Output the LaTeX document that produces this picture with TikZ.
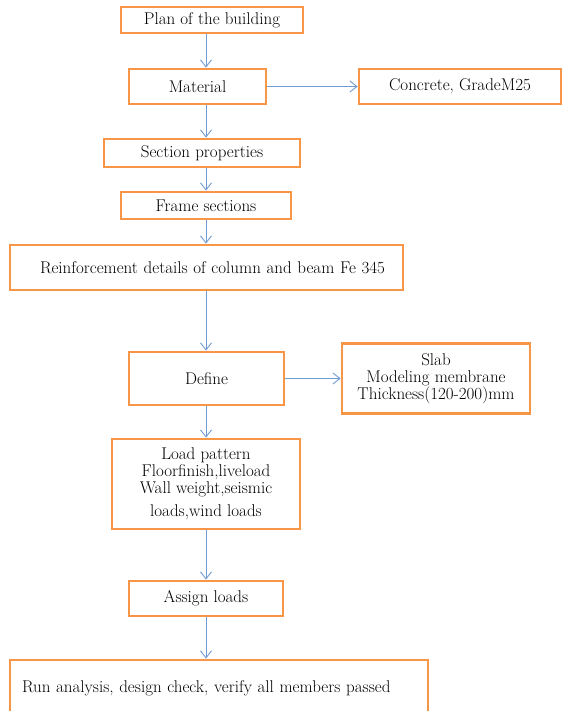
\documentclass[tikz,border=0pt]{standalone}
\usetikzlibrary{arrows.meta}
\usepackage{xcolor}
\definecolor{boxorange}{HTML}{F79646}
\definecolor{arrowblue}{HTML}{6F9BD3}

\begin{document}
\begin{tikzpicture}[
  x=1pt, y=-1pt,
  box/.style={draw=boxorange, line width=2.8pt, fill=white, align=center, inner sep=0pt, font=\fontsize{17}{17}\selectfont},
  arr/.style={-{Straight Barb[length=7pt, width=11pt]}, arrowblue, line width=0.9pt}
]
\useasboundingbox (0,0) rectangle (571,711);

% main column
\node[box, minimum width=182pt, minimum height=26pt] (plan) at (212,20) {Plan of the building};
\node[box, minimum width=137pt, minimum height=35pt] (mat) at (197.5,86.5) {Material};
\node[box, minimum width=202pt, minimum height=35pt] (conc) at (460,86.5) {Concrete, GradeM25};
\node[box, minimum width=196pt, minimum height=28pt] (sect) at (202,153) {Section properties};
\node[box, minimum width=170pt, minimum height=27pt] (frame) at (206,205.5) {Frame sections};
\node[box, minimum width=393pt, minimum height=45pt, text width=393pt, align=left] (reinf) at (206.5,267.5)
  {\hspace*{30pt}Reinforcement details of column and beam Fe 345};
\node[box, minimum width=155pt, minimum height=53pt] (def) at (206.5,378.5) {Define};
\node[box, minimum width=188pt, minimum height=70pt] (slab) at (436,378.5) {Slab\\Modeling membrane\\Thickness(120-200)mm};
\node[box, minimum width=188pt, minimum height=90pt] (load) at (206,484)
  {Load pattern\\Floorfinish,liveload\\Wall weight,seismic\\[6pt]loads,wind loads};
\node[box, minimum width=154pt, minimum height=35pt] (assign) at (206,598.5) {Assign loads};
\node[box, minimum width=418pt, minimum height=56pt, text width=418pt, align=left] (run) at (219,688)
  {\hspace*{12pt}Run analysis, design check, verify all members passed};

\coordinate (spine) at (206,0);

\draw[arr] (plan.south -| spine) -- (mat.north -| spine);
\draw[arr] (mat.south -| spine) -- (sect.north -| spine);
\draw[arr] (sect.south -| spine) -- (frame.north -| spine);
\draw[arr] (frame.south -| spine) -- (reinf.north -| spine);
\draw[arr] (reinf.south -| spine) -- (def.north -| spine);
\draw[arr] (def.south -| spine) -- (load.north -| spine);
\draw[arr] (load.south -| spine) -- (assign.north -| spine);
\draw[arr] (assign.south -| spine) -- (run.north -| spine);
\draw[arr] (mat.east) -- (conc.west);
\draw[arr] (def.east) -- (slab.west);
\end{tikzpicture}
\end{document}
